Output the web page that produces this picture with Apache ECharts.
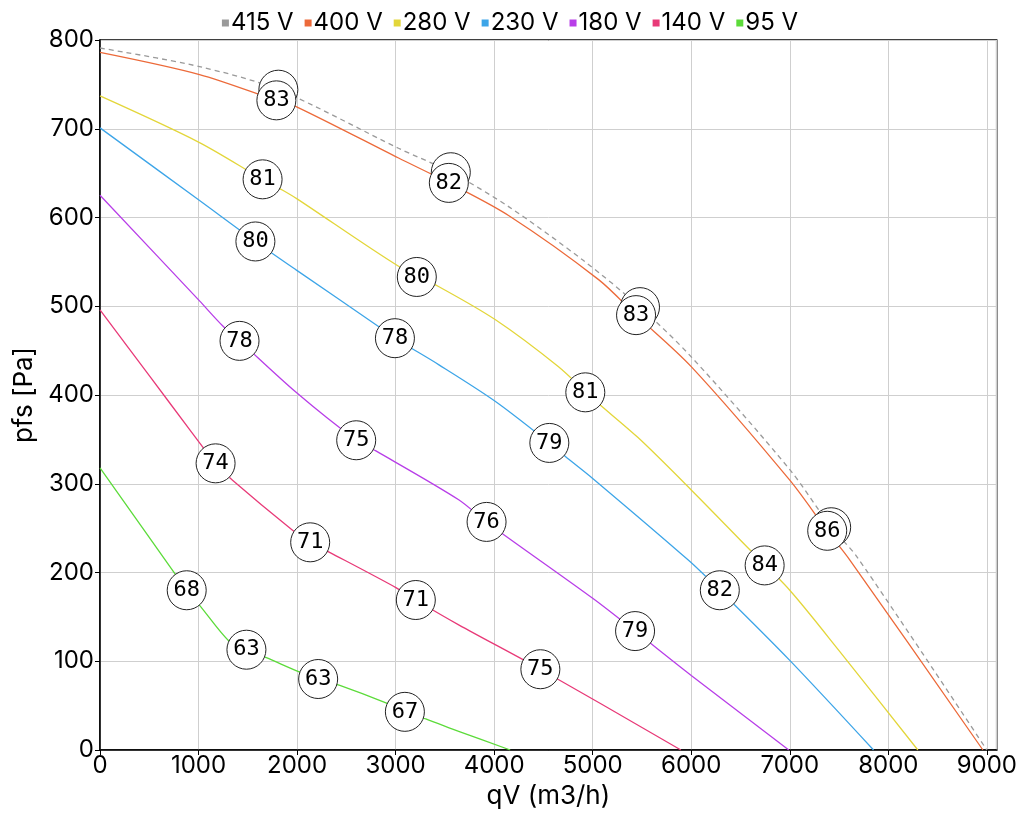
<!DOCTYPE html>
<html>
<head>
<meta charset="utf-8">
<script src="https://cdn.jsdelivr.net/npm/echarts@6/dist/echarts.min.js"></script>
<style>html,body{margin:0;padding:0;background:#fff}#c{width:1020px;height:820px}</style>
</head>
<body>
<div id="c"></div>
<script>
// ---- data ----
const seriesNames = ['415 V', '400 V', '280 V', '230 V', '180 V', '140 V', '95 V'];
const colors = ['#9a9a9a', '#ec6a3a', '#e3d63a', '#3da5e8', '#b83ee8', '#e83a78', '#5cdb3a'];

const qv415 = [0, 1010, 1810, 3030, 3560, 4150, 4900, 5480, 6000, 7000, 7420, 7680, 9000];
const pf415 = [791, 770, 744, 678, 651, 612, 552, 499, 443, 316, 251, 218, 0];

const qv400 = [0, 1010, 1790, 1990, 3030, 3540, 4150, 5060, 5440, 6000, 7000, 7380, 7610, 8960];
const pf400 = [786, 761, 732, 725, 667, 639, 602, 530, 490, 432, 304, 247, 214, 0];

const qv280 = [0, 1000, 1650, 1850, 2000, 3030, 3440, 4010, 4650, 5000, 5460, 6000, 6600, 7000, 7500, 8300];
const pf280 = [737, 685, 643, 631, 621, 545, 522, 485, 432, 396, 352, 293, 225, 180, 112, 0];

const qv230 = [0, 1000, 1577, 1990, 2830, 2993, 3440, 4010, 4560, 4720, 5000, 5970, 6290, 7000, 7850];
const pf230 = [701, 620, 573, 541, 477, 464, 434, 393, 346, 331, 306, 214, 180, 101, 0];

const qv180 = [0, 1010, 1244, 1416, 1990, 2600, 2800, 3640, 3920, 5000, 5430, 6000, 6990];
const pf180 = [625, 506, 478, 461, 403, 349, 337, 282, 257, 171, 134, 84, 0];

const qv140 = [0, 506, 910, 1173, 1345, 1951, 2133, 2325, 3003, 3205, 3640, 4469, 5895];
const pf140 = [496, 421, 361, 323, 304, 248, 234, 223, 183, 169, 141, 91, 0];

const qv95 = [0, 758, 880, 1011, 1315, 1486, 1688, 2022, 2214, 2427, 2902, 3094, 3306, 3640, 4163];
const pf95 = [318, 199, 180, 163, 122, 113, 104, 88, 80, 73, 53, 43, 35, 21, 0];

// efficiency marker points
const mq415 = [1810, 3560, 5480, 7420];
const mp415 = [744, 651, 499, 251];
const ml415 = ['', '', '', ''];
const mq400 = [1790, 3540, 5440, 7380];
const mp400 = [732, 639, 490, 247];
const ml400 = ['83', '82', '83', '86'];
const mq280 = [1650, 3215, 4925, 6745];
const mp280 = [643, 533, 403, 208];
const ml280 = ['81', '80', '81', '84'];
const mq230 = [1577, 2993, 4560, 6290];
const mp230 = [573, 464, 346, 180];
const ml230 = ['80', '78', '79', '82'];
const mq180 = [1416, 2600, 3923, 5430];
const mp180 = [461, 349, 257, 134];
const ml180 = ['78', '75', '76', '79'];
const mq140 = [1173, 2133, 3205, 4469];
const mp140 = [323, 234, 169, 91];
const ml140 = ['74', '71', '71', '75'];
const mq95 = [880, 1486, 2214, 3094];
const mp95 = [180, 113, 80, 43];
const ml95 = ['68', '63', '63', '67'];

const xTickInterval = 1000;
const yTickInterval = 100;

// ---- build ----
const curves = [[qv415, pf415], [qv400, pf400], [qv280, pf280], [qv230, pf230], [qv180, pf180], [qv140, pf140], [qv95, pf95]];
const markers = [[mq415, mp415, ml415], [mq400, mp400, ml400], [mq280, mp280, ml280], [mq230, mp230, ml230], [mq180, mp180, ml180], [mq140, mp140, ml140], [mq95, mp95, ml95]];

const font = 'Inter, "Noto Sans", sans-serif';
const series = [];
curves.forEach((c, i) => {
  series.push({
    name: seriesNames[i],
    type: 'line',
    smooth: 0.3,
    symbol: 'none',
    data: c[0].map((q, k) => [q, c[1][k]]),
    lineStyle: { color: colors[i], width: 1.3, type: i === 0 ? [5, 4] : 'solid' },
    itemStyle: { color: colors[i] },
    z: 2
  });
});
markers.forEach((m, i) => {
  series.push({
    name: seriesNames[i],
    type: 'scatter',
    symbol: 'circle',
    symbolSize: 39,
    data: m[0].map((q, k) => ({ value: [q, m[1][k]], label: { formatter: m[2][k] } })),
    itemStyle: { color: '#fff', borderColor: '#222', borderWidth: 1, opacity: 1 },
    label: {
      show: i !== 0,
      position: 'inside',
      color: '#000',
      fontFamily: '"DejaVu Sans Mono", monospace',
      fontSize: 22
    },
    emphasis: { disabled: true },
    z: 3
  });
});

const chart = echarts.init(document.getElementById('c'), null, { renderer: 'canvas' });
chart.setOption({
  animation: false,
  backgroundColor: '#fff',
  legend: {
    data: seriesNames.map(n => ({ name: n, icon: 'rect' })),
    top: 6,
    left: 'center',
    itemWidth: 7,
    itemHeight: 7,
    itemGap: 11,
    textStyle: { fontFamily: font, fontSize: 24, color: '#000', padding: [0, 0, 0, -3] }
  },
  grid: {
    left: 100, right: 20, top: 40, bottom: 70,
    show: true, borderColor: '#000', borderWidth: 1.5
  },
  xAxis: {
    type: 'value',
    min: 0, max: 9100, interval: xTickInterval,
    name: 'qV (m3/h)',
    nameLocation: 'middle',
    nameGap: 32,
    nameTextStyle: { fontFamily: font, fontSize: 26, color: '#000' },
    axisLine: { show: true, lineStyle: { color: '#000', width: 1.5 } },
    axisTick: { show: true, length: 5, lineStyle: { color: '#000' } },
    axisLabel: { showMaxLabel: false, fontFamily: font, fontSize: 24, color: '#000', margin: 4, formatter: v => String(v) },
    splitLine: { show: true, lineStyle: { color: '#cfcfcf', width: 1 } }
  },
  yAxis: {
    type: 'value',
    min: 0, max: 800, interval: yTickInterval,
    name: 'pfs [Pa]',
    nameLocation: 'middle',
    nameGap: 48,
    nameTextStyle: { fontFamily: font, fontSize: 26, color: '#000' },
    axisLine: { show: true, lineStyle: { color: '#000', width: 1.5 } },
    axisTick: { show: true, length: 5, lineStyle: { color: '#000' } },
    axisLabel: { fontFamily: font, fontSize: 24, color: '#000', margin: 6, formatter: v => String(v) },
    splitLine: { show: true, lineStyle: { color: '#cfcfcf', width: 1 } }
  },
  series: series
});
</script>
</body>
</html>
